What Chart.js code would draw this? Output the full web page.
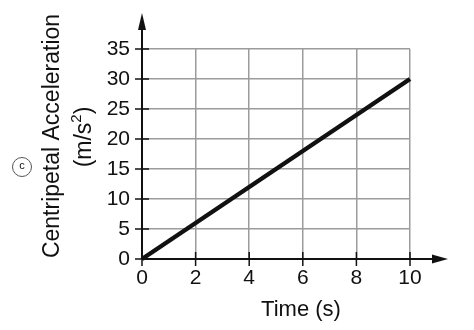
<!DOCTYPE html>
<html>
<head>
<meta charset="utf-8">
<script src="https://cdn.jsdelivr.net/npm/chart.js@4.4.0/dist/chart.umd.min.js"></script>
<style>
  html, body { margin: 0; padding: 0; background: #fff; }
</style>
</head>
<body>
<canvas id="accelChart" width="474" height="330"></canvas>
<script>
// ── Centripetal acceleration vs time ──
const timeSeconds = [0, 10];
const accelValues = [0, 30];
const xTicks = [0, 2, 4, 6, 8, 10];
const yTicks = [0, 5, 10, 15, 20, 25, 30, 35];
const xTitle = 'Time (s)';
const yTitle = 'Centripetal Acceleration';
const yUnitParts = ['(m/s', '2', ')']; // (m/s²) with a real superscript
const panelLabel = 'c';

const FONT = "'Liberation Sans', Arial, sans-serif";
const GRID = '#9c9c9c';
const INK = '#111';

// axes with arrow heads, crossing tick marks, titles, panel badge
const decorPlugin = {
  id: 'decor',
  beforeDatasetsDraw(chart) {
    const { ctx, chartArea: a, scales: { x, y } } = chart;
    const x0 = x.getPixelForValue(0), y0 = y.getPixelForValue(0);
    ctx.save();
    ctx.strokeStyle = INK; ctx.fillStyle = INK; ctx.lineWidth = 2;

    // x axis
    ctx.beginPath(); ctx.moveTo(x0, y0); ctx.lineTo(a.right + 24, y0); ctx.stroke();
    ctx.beginPath();
    ctx.moveTo(a.right + 38, y0); ctx.lineTo(a.right + 22, y0 - 4.5); ctx.lineTo(a.right + 22, y0 + 4.5);
    ctx.closePath(); ctx.fill();
    // y axis
    ctx.beginPath(); ctx.moveTo(x0, y0); ctx.lineTo(x0, a.top - 22); ctx.stroke();
    ctx.beginPath();
    ctx.moveTo(x0, a.top - 36); ctx.lineTo(x0 - 4, a.top - 19); ctx.lineTo(x0 + 4, a.top - 19);
    ctx.closePath(); ctx.fill();

    // tick marks crossing the axes
    ctx.lineWidth = 1.5;
    xTicks.forEach(v => {
      const px = x.getPixelForValue(v);
      ctx.beginPath(); ctx.moveTo(px, y0 - 7); ctx.lineTo(px, y0 + 7); ctx.stroke();
    });
    yTicks.forEach(v => {
      const py = y.getPixelForValue(v);
      ctx.beginPath(); ctx.moveTo(x0 - 7, py); ctx.lineTo(x0 + 7, py); ctx.stroke();
    });
    ctx.restore();
  },
  afterDraw(chart) {
    const { ctx, chartArea: a } = chart;
    const midY = (a.top + a.bottom) / 2;
    ctx.save();
    ctx.fillStyle = INK;
    ctx.textAlign = 'center';
    ctx.textBaseline = 'middle';

    // x title
    ctx.font = `22px ${FONT}`;
    ctx.fillText(xTitle, (a.left + a.right) / 2 + 25, a.bottom + 51);

    // y title, rotated
    ctx.save();
    ctx.translate(a.left - 89, midY - 18);
    ctx.rotate(-Math.PI / 2);
    ctx.font = `23px ${FONT}`;
    ctx.fillText(yTitle, 0, 0);
    ctx.restore();

    // unit line with superscript
    ctx.save();
    ctx.translate(a.left - 57, midY - 17);
    ctx.rotate(-Math.PI / 2);
    ctx.textAlign = 'left';
    const big = `23px ${FONT}`, small = `15px ${FONT}`;
    ctx.font = big; const w1 = ctx.measureText(yUnitParts[0]).width;
    const w3 = ctx.measureText(yUnitParts[2]).width;
    ctx.font = small; const w2 = ctx.measureText(yUnitParts[1]).width;
    let cx = -(w1 + w2 + w3) / 2;
    ctx.font = big; ctx.fillText(yUnitParts[0], cx, 0); cx += w1;
    ctx.font = small; ctx.fillText(yUnitParts[1], cx, -8); cx += w2;
    ctx.font = big; ctx.fillText(yUnitParts[2], cx, 0);
    ctx.restore();

    // panel badge
    ctx.strokeStyle = '#555'; ctx.lineWidth = 1;
    ctx.beginPath(); ctx.arc(22, midY + 13, 9.5, 0, Math.PI * 2); ctx.stroke();
    ctx.font = `11px ${FONT}`;
    ctx.fillText(panelLabel, 22, midY + 12);
    ctx.restore();
  }
};

new Chart(document.getElementById('accelChart'), {
  type: 'line',
  data: {
    datasets: [{
      data: timeSeconds.map((t, i) => ({ x: t, y: accelValues[i] })),
      borderColor: INK,
      borderWidth: 4.5,
      borderCapStyle: 'butt',
      pointRadius: 0,
      tension: 0,
      clip: false
    }]
  },
  options: {
    responsive: false,
    animation: false,
    layout: { padding: { left: 0, top: 49, right: 64, bottom: 0 } },
    scales: {
      x: {
        type: 'linear', min: 0, max: 10,
        afterBuildTicks: s => { s.ticks = xTicks.map(v => ({ value: v })); },
        afterFit: s => { s.height = 71; },
        grid: { color: GRID, lineWidth: 1.5, drawTicks: false },
        border: { display: false },
        ticks: { color: INK, padding: 7, font: { family: FONT, size: 21 } }
      },
      y: {
        type: 'linear', min: 0, max: 35,
        afterBuildTicks: s => { s.ticks = yTicks.map(v => ({ value: v })); },
        afterFit: s => { s.width = 142; },
        grid: { color: GRID, lineWidth: 1.5, drawTicks: false },
        border: { display: false },
        ticks: { color: INK, padding: 12, font: { family: FONT, size: 21 } }
      }
    },
    plugins: { legend: { display: false }, tooltip: { enabled: false } }
  },
  plugins: [decorPlugin]
});
</script>
</body>
</html>
